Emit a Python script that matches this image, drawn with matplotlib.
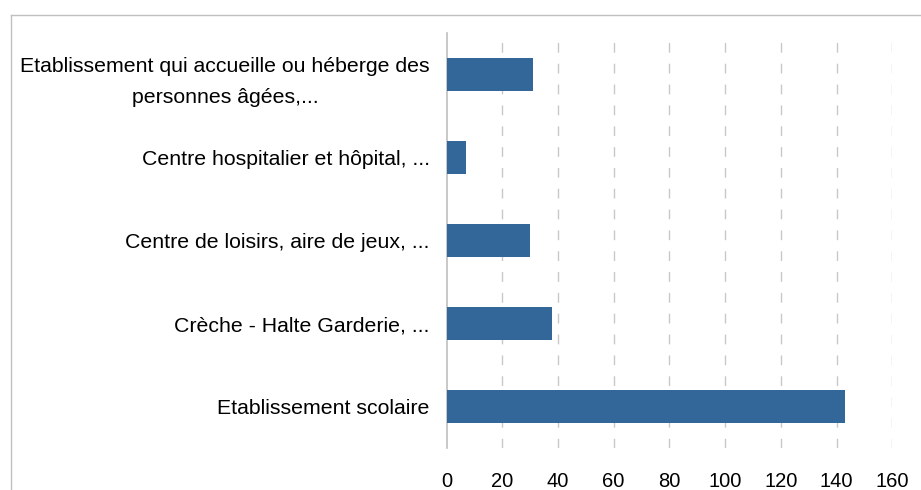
import matplotlib.pyplot as plt
from matplotlib.lines import Line2D

categories = [
    "Etablissement scolaire",
    "Crèche - Halte Garderie, ...",
    "Centre de loisirs, aire de jeux, ...",
    "Centre hospitalier et hôpital, ...",
    "Etablissement qui accueille ou héberge des\npersonnes âgées,...",
]
values = [143, 38, 30, 7, 31]
xticks = [0, 20, 40, 60, 80, 100, 120, 140, 160]

bar_color = "#336699"
grid_color = "#c8c8c8"

plt.rcParams["font.family"] = ["Liberation Sans", "DejaVu Sans"]

fig = plt.figure(figsize=(9.21, 4.90), dpi=100)
ax = fig.add_axes([446.5 / 921, 42 / 490, (892.3 - 446.5) / 921, (448 - 33) / 490])

pos = list(range(len(categories)))
ax.barh(pos, values, height=0.4, color=bar_color, zorder=3)

ax.set_xlim(0, 160)
ax.set_ylim(-0.5, len(categories) - 0.5)
ax.set_xticks(xticks)
ax.set_xticklabels([str(t) for t in xticks], fontsize=14.5)
ax.set_yticks(pos)
ax.set_yticklabels(categories, fontsize=15.3, multialignment="center",
                   linespacing=1.75)

ax.tick_params(axis="both", length=0, colors="black")
ax.tick_params(axis="y", pad=12)
ax.tick_params(axis="x", pad=17)

for t in xticks[1:]:
    ax.axvline(t, color=grid_color, linewidth=1, linestyle=(0, (7, 8)), zorder=1)

for side in ["top", "right", "bottom"]:
    ax.spines[side].set_visible(False)
ax.spines["left"].set_color("#bfbfbf")
ax.spines["left"].set_linewidth(1.2)

# outer chart frame (only top and left edges are visible)
x0 = 10.5 / 921
y0 = 1 - 15.5 / 490
fig.add_artist(Line2D([x0, 1], [y0, y0], transform=fig.transFigure, color="#c0c0c0", linewidth=1))
fig.add_artist(Line2D([x0, x0], [0, y0], transform=fig.transFigure, color="#c0c0c0", linewidth=1))

fig.savefig("out.png", dpi=100, facecolor="white")
